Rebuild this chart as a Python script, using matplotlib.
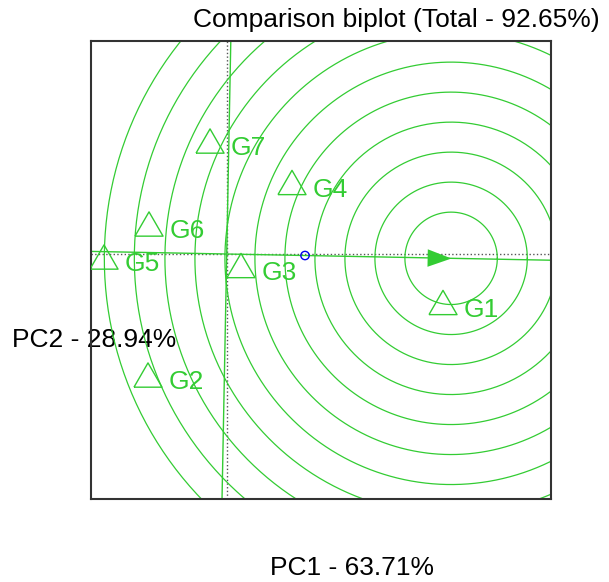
import numpy as np
import matplotlib.pyplot as plt

plt.rcParams['font.family'] = ['Liberation Sans', 'DejaVu Sans']

# genotype scores (PC1, PC2)
genotypes = ["G1", "G2", "G3", "G4", "G5", "G6", "G7"]
pc1 = [3.605, -1.312, 0.238, 1.088, -2.045, -1.295, -0.278]
pc2 = [-0.808, -2.017, -0.192, 1.192, -0.05, 0.5, 1.883]

# average environment and ideal genotype
avg_env = [1.305, -0.025]
ideal = [3.74, -0.072]

# concentric circle radii around the ideal genotype
radii = [0.77, 1.27, 1.77, 2.27, 2.77, 3.27, 3.77, 4.27, 4.77, 5.28, 5.78]

title = "Comparison biplot (Total - 92.65%)"
xlabel = "PC1 - 63.71%"
ylabel = "PC2 - 28.94%"

green = '#33cc33'

fig = plt.figure(figsize=(6.09, 5.82), dpi=100)
ax = fig.add_axes([91/609, 83/582, 460/609, 458/582])
ax.patch.set_alpha(0)
ax.set_xlim(-2.262, 5.405)
ax.set_ylim(-4.083, 3.55)
ax.set_xticks([])
ax.set_yticks([])
for s in ax.spines.values():
    s.set_color('#333333')
    s.set_linewidth(1.5)

# dotted axes through the origin
ax.axhline(0, color='#555555', linestyle=':', linewidth=1)
ax.axvline(0, color='#555555', linestyle=':', linewidth=1)

# average environment axis and its perpendicular
ax.axline((0, 0), (avg_env[0], avg_env[1]), color=green, linewidth=1)
ax.axline((0, 0), (-avg_env[1], avg_env[0]), color=green, linewidth=1)

# circles
t = np.linspace(0, 2*np.pi, 400)
for r in radii:
    ax.plot(ideal[0] + r*np.cos(t), ideal[1] + r*np.sin(t), color=green, linewidth=0.9)

# genotype triangles
tri = [(-1, -0.866), (1, -0.866), (0, 0.866), (-1, -0.866)]
ax.scatter(pc1, pc2, marker=tri, s=20.2**2, facecolors='none', edgecolors=green,
           linewidths=1, zorder=5)
for g, x, y in zip(genotypes, pc1, pc2):
    ax.annotate(g, (x, y), xytext=(15, -10.4), textcoords='offset points',
                ha='left', va='baseline', fontsize=19, color=green, zorder=6)

# ideal genotype arrow head
ang = np.arctan2(avg_env[1], avg_env[0])
head = np.array([(0, 0), (-24, 8.8), (-24, -8.8), (0, 0)])
rot = np.array([[np.cos(ang), -np.sin(ang)], [np.sin(ang), np.cos(ang)]])
head = head @ rot.T
ax.scatter([ideal[0]], [ideal[1]], marker=head, s=34.6**2, color=green,
           linewidths=0, zorder=6)

# average environment marker
ax.scatter([avg_env[0]], [avg_env[1]], marker='o', s=6**2, facecolors='none',
           edgecolors='#0000ee', linewidths=1, zorder=7)

fig.text(396.5/609, 1 - 20/582, title, ha='center', va='center', fontsize=19)
fig.text(352/609, 1 - 568/582, xlabel, ha='center', va='center', fontsize=19)
# drawn below the axes frame, like the reference
fig.text(12/609, 1 - 340/582, ylabel, ha='left', va='center', fontsize=19, zorder=-1)

fig.savefig('out.png', dpi=100)
